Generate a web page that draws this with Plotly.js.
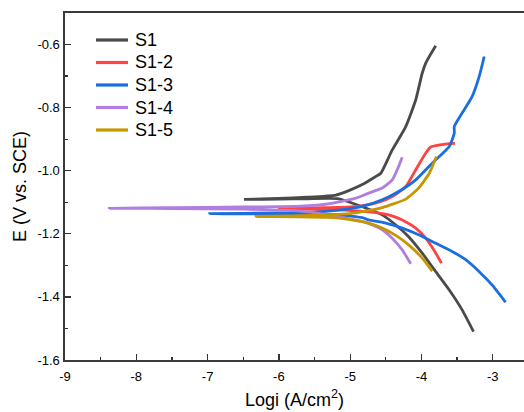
<!DOCTYPE html>
<html>
<head>
<meta charset="utf-8">
<script src="https://cdn.plot.ly/plotly-3.0.1.min.js"></script>
<style>
html,body{margin:0;padding:0;background:#fff;}
#chart{width:524px;height:412px;}
</style>
</head>
<body>
<div id="chart"></div>
<script>
// Series names
const seriesNames = ["S1", "S1-2", "S1-3", "S1-4", "S1-5"];

// S1: log i and E (cathodic end -> Ecorr -> anodic end)
const s1LogI = [-3.27, -3.43, -3.61, -3.80, -3.99, -4.18, -4.36, -4.55, -4.83, -5.16, -5.6, -6.0, -6.49, -6.0, -5.6, -5.20, -5.02, -4.83, -4.64, -4.57, -4.41, -4.22, -4.08, -3.99, -3.94, -3.89, -3.80];
const s1E    = [-1.51, -1.441, -1.378, -1.320, -1.261, -1.209, -1.172, -1.140, -1.114, -1.089, -1.089, -1.090, -1.091, -1.088, -1.084, -1.077, -1.063, -1.044, -1.018, -1.008, -0.934, -0.860, -0.775, -0.691, -0.659, -0.638, -0.604];

// S1-2
const s2LogI = [-3.72, -3.80, -3.94, -4.08, -4.27, -4.46, -4.64, -4.9, -5.3, -6.0, -5.5, -5.0, -4.8, -4.6, -4.41, -4.22, -4.08, -3.94, -3.87, -3.71, -3.61, -3.53];
const s2E    = [-1.293, -1.261, -1.214, -1.182, -1.156, -1.140, -1.133, -1.127, -1.123, -1.121, -1.118, -1.115, -1.110, -1.100, -1.082, -1.050, -0.997, -0.944, -0.925, -0.917, -0.914, -0.913];

// S1-3
const s3LogI = [-2.82, -3.01, -3.19, -3.38, -3.57, -3.80, -4.04, -4.27, -4.50, -4.74, -4.83, -5.06, -5.5, -6.0, -6.97, -6.0, -5.5, -5.2, -5.0, -4.83, -4.55, -4.32, -4.08, -3.85, -3.61, -3.54, -3.54, -3.43, -3.29, -3.19, -3.12];
const s3E    = [-1.417, -1.362, -1.320, -1.282, -1.256, -1.230, -1.203, -1.182, -1.166, -1.156, -1.149, -1.142, -1.138, -1.137, -1.136, -1.134, -1.131, -1.126, -1.120, -1.113, -1.092, -1.066, -1.029, -0.976, -0.923, -0.881, -0.860, -0.817, -0.765, -0.701, -0.638];

// S1-4
const s4LogI = [-4.15, -4.27, -4.41, -4.55, -4.69, -4.83, -5.06, -5.30, -5.7, -6.5, -7.5, -8.38, -7.5, -6.5, -5.7, -5.30, -4.92, -4.74, -4.55, -4.41, -4.34, -4.27];
const s4E    = [-1.295, -1.251, -1.214, -1.187, -1.172, -1.161, -1.150, -1.140, -1.128, -1.122, -1.120, -1.119, -1.117, -1.115, -1.112, -1.105, -1.087, -1.071, -1.055, -1.029, -0.997, -0.957];

// S1-5
const s5LogI = [-3.85, -3.99, -4.18, -4.36, -4.55, -4.74, -5.0, -5.3, -5.8, -6.32, -5.8, -5.3, -5.0, -4.83, -4.55, -4.22, -4.04, -3.89, -3.79];
const s5E    = [-1.318, -1.277, -1.235, -1.205, -1.182, -1.166, -1.155, -1.148, -1.146, -1.145, -1.143, -1.140, -1.136, -1.130, -1.117, -1.090, -1.055, -1.008, -0.955];

// Tick labels
const xTickVals = [-9, -8, -7, -6, -5, -4, -3];
const xTickText = ["-9", "-8", "-7", "-6", "-5", "-4", "-3"];
const yTickVals = [-1.6, -1.4, -1.2, -1.0, -0.8, -0.6];
const yTickText = ["-1.6", "-1.4", "-1.2", "-1.0", "-0.8", "-0.6"];
const xMinorVals = [-8.5, -7.5, -6.5, -5.5, -4.5, -3.5];
const yMinorVals = [-1.5, -1.3, -1.1, -0.9, -0.7];

const colors = ["#4a4a4a", "#ff4242", "#1a6fe0", "#b07de0", "#c89600"];
const xs = [s1LogI, s2LogI, s3LogI, s4LogI, s5LogI];
const ys = [s1E, s2E, s3E, s4E, s5E];

const traces = seriesNames.map((n, i) => ({
  x: xs[i], y: ys[i], name: n, type: "scatter", mode: "lines",
  line: {color: colors[i], width: 2.8, shape: "spline", smoothing: 0.5}
}));

const font = {family: "'Liberation Sans', Arial, sans-serif", color: "#000"};

// Legend drawn in paper coordinates (plot area: x 65..524 px, y 13..360 px)
const plotL = 65, plotW = 459, plotT = 13, plotH = 347;
const px2x = p => (p - plotL) / plotW;
const py2y = p => 1 - (p - plotT) / plotH;
const legendRows = [40, 62.5, 85, 107.5, 130];
const shapes = [];
const annotations = [];
seriesNames.forEach((n, i) => {
  shapes.push({type: "line", xref: "paper", yref: "paper",
    x0: px2x(96), x1: px2x(128), y0: py2y(legendRows[i]), y1: py2y(legendRows[i]),
    line: {color: colors[i], width: 3.2}});
  annotations.push({xref: "paper", yref: "paper", x: px2x(133), y: py2y(legendRows[i]),
    xanchor: "left", yanchor: "middle", showarrow: false, text: n,
    font: Object.assign({size: 18}, font)});
});

const layout = {
  width: 524, height: 412,
  margin: {l: plotL, r: 0, t: plotT, b: 52},
  paper_bgcolor: "#fff", plot_bgcolor: "#fff",
  font: Object.assign({size: 13}, font),
  showlegend: false,
  shapes: shapes,
  annotations: annotations,
  xaxis: {
    range: [-9, -2.562],
    tickmode: "array", tickvals: xTickVals, ticktext: xTickText,
    ticks: "inside", ticklen: 6, tickwidth: 1.3, tickcolor: "#333",
    ticklabelstandoff: 4,
    minor: {tickmode: "array", tickvals: xMinorVals, ticks: "inside", ticklen: 3, tickwidth: 1.3, tickcolor: "#333", showgrid: false},
    showline: true, linecolor: "#3a3a3a", linewidth: 1.6, mirror: true,
    showgrid: false, zeroline: false,
    tickfont: Object.assign({size: 13}, font),
    title: {text: "Logi (A/cm<sup>2</sup>)", font: Object.assign({size: 18}, font), standoff: 10}
  },
  yaxis: {
    range: [-1.6, -0.5],
    tickmode: "array", tickvals: yTickVals, ticktext: yTickText,
    ticks: "inside", ticklen: 6, tickwidth: 1.3, tickcolor: "#333",
    ticklabelstandoff: 1,
    minor: {tickmode: "array", tickvals: yMinorVals, ticks: "inside", ticklen: 3, tickwidth: 1.3, tickcolor: "#333", showgrid: false},
    showline: true, linecolor: "#3a3a3a", linewidth: 1.6, mirror: false,
    showgrid: false, zeroline: false,
    tickfont: Object.assign({size: 13}, font),
    title: {text: "E (V vs. SCE)", font: Object.assign({size: 18}, font), standoff: 6}
  }
};

Plotly.newPlot("chart", traces, layout, {staticPlot: true, displayModeBar: false});
</script>
</body>
</html>
